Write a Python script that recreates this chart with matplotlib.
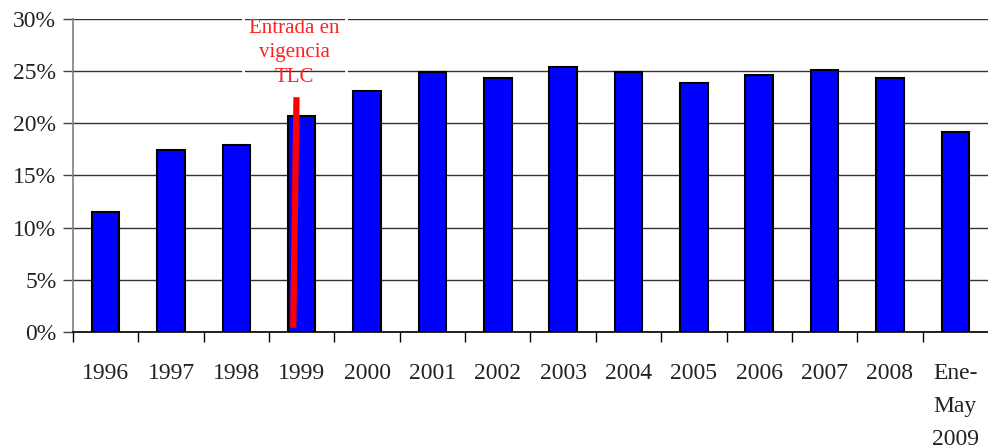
import matplotlib
matplotlib.use("Agg")
import matplotlib.pyplot as plt
from matplotlib.ticker import FixedLocator, FuncFormatter

# values (% share)
categories = ["1996", "1997", "1998", "1999", "2000", "2001", "2002", "2003",
              "2004", "2005", "2006", "2007", "2008", "Ene-\nMay\n2009"]
values = [11.5, 17.4, 17.9, 20.7, 23.1, 24.9, 24.3, 25.4,
          24.9, 23.9, 24.6, 25.1, 24.3, 19.2]

# TLC marker line (from/to, in data units)
tlc_x = [2.92, 2.87]
tlc_y = [22.5, 0.4]
tlc_label = "Entrada en\nvigencia\nTLC"

plt.rcParams['font.family'] = ['Liberation Serif', 'DejaVu Serif']

fig = plt.figure(figsize=(9.88, 4.48), dpi=100)
ax = fig.add_axes([0.0739, 0.259, 0.926, 0.6987])

x = list(range(len(categories)))
ax.bar(x, values, width=0.42, color="#0000ff", edgecolor="black",
       linewidth=1.5, zorder=3)

ax.set_xlim(-0.5, len(categories) - 0.5)
ax.set_ylim(0, 30)

# gridlines
ax.set_yticks([0, 5, 10, 15, 20, 25, 30])
ax.yaxis.set_major_formatter(FuncFormatter(lambda v, p: f"{v:.0f}%"))
ax.grid(axis="y", color="#333333", linewidth=1.0, zorder=0)
ax.tick_params(axis="y", length=7, width=1, color="#444444", pad=5,
               labelsize=17, labelcolor="#222222")

# category labels centred, ticks between categories
ax.set_xticks(x)
ax.set_xticklabels(categories, linespacing=1.75)
ax.tick_params(axis="x", which="major", length=0, pad=22,
               labelsize=17, labelcolor="#222222")
ax.xaxis.set_minor_locator(FixedLocator([i - 0.5 for i in range(len(categories))]))
ax.tick_params(axis="x", which="minor", length=7, width=1, color="black")
for lbl in ax.get_xticklabels():
    lbl.set_verticalalignment("top")

for s in ["top", "right"]:
    ax.spines[s].set_visible(False)
ax.spines["left"].set_color("#808080")
ax.spines["left"].set_linewidth(1.2)
ax.spines["bottom"].set_color("black")
ax.spines["bottom"].set_linewidth(1.2)

# TLC annotation
ax.plot(tlc_x, tlc_y, color="#ff0000", linewidth=4.5, solid_capstyle="butt",
        zorder=4)
ax.text(2.89, 26.75, tlc_label, color="#ff2020", fontsize=15,
        ha="center", va="center", linespacing=1.4, zorder=5, clip_on=False,
        bbox=dict(facecolor="none", edgecolor="white", linewidth=2,
                  boxstyle="square,pad=0.3"))

fig.savefig("out.png", dpi=100)
